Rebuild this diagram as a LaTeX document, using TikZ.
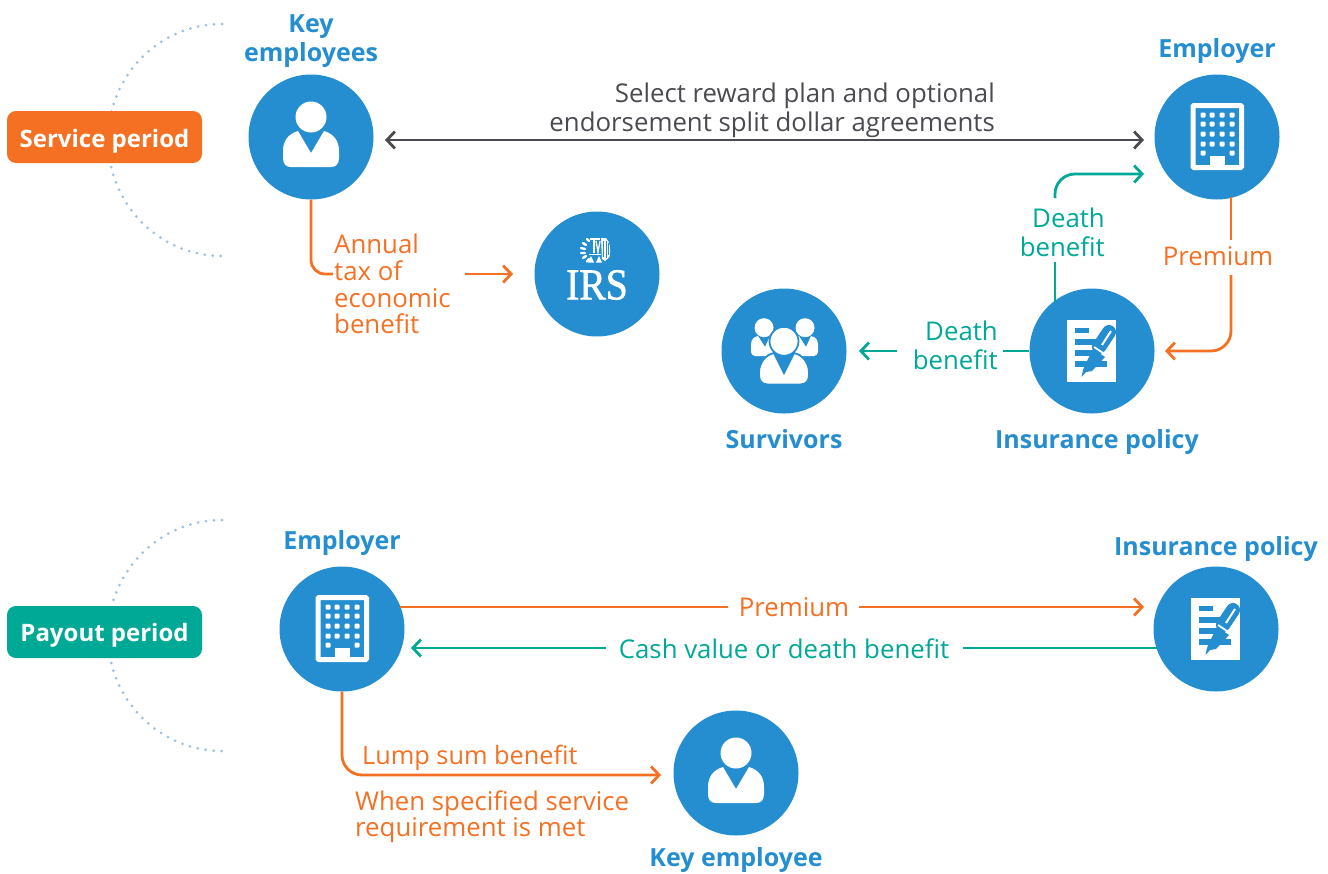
\documentclass[tikz,border=0pt]{standalone}
\usepackage{fontspec}
\setmainfont{Open Sans}
\newfontfamily\irsfont[FakeBold=1.5]{Liberation Serif}
\usetikzlibrary{arrows.meta}
\definecolor{cblue}{HTML}{258ED0}
\definecolor{corange}{HTML}{F57023}
\definecolor{cteal}{HTML}{00A896}
\definecolor{cgray}{HTML}{4A4A50}
\definecolor{cdots}{HTML}{9DBFE3}
\tikzset{
  disc/.style={circle,fill=cblue,minimum size=125pt,inner sep=0pt},
  title/.style={text=cblue,font=\fontsize{25}{29}\selectfont\bfseries,align=center,inner sep=0pt},
  lab/.style={font=\fontsize{25.8}{29.3}\selectfont,inner sep=0pt},
  orangelab/.style={lab,text=corange},
  teallab/.style={lab,text=cteal},
  pill/.style={rounded corners=9pt,minimum width=195pt,minimum height=52pt,inner sep=0pt,text=white,font=\fontsize{24}{29}\selectfont\bfseries},
  link/.style={line width=2.8pt,rounded corners=20pt},
  tip/.style={-{Straight Barb[length=8pt,width=17pt,line width=2.8pt]}},
  tips/.style={{Straight Barb[length=8pt,width=17pt,line width=2.8pt]}-{Straight Barb[length=8pt,width=17pt,line width=2.8pt]}},
  dotarc/.style={cdots,line width=3pt,line cap=round,dash pattern=on 0pt off 8pt},
  personicon/.pic={
    \fill[white] (0,-20) circle (15.5);
    \fill[white] (-13,-6) -- (0,16) -- (13,-6) .. controls (23,-3) and (28,4) .. (28,14) -- (28,21) .. controls (28,27) and (25,30) .. (20,30) -- (-20,30) .. controls (-25,30) and (-28,27) .. (-28,21) -- (-28,14) .. controls (-28,4) and (-23,-3) .. (-13,-6) -- cycle;
  },
  buildingicon/.pic={
    \draw[white,line width=5pt,rounded corners=1pt] (-24,-31.5) rectangle (24.5,30.5);
    \foreach \yy in {-22,-13,-3,7}{\foreach \xx in {-14,-5,5,15}{
      \fill[white,rounded corners=1pt] (\xx-2.5,\yy-2.5) rectangle (\xx+2.5,\yy+2.5);}}
    \foreach \xx in {-14,15}{\fill[white,rounded corners=1pt] (\xx-2.5,13.5) rectangle (\xx+2.5,18.5);}
    \fill[white] (-7,19) rectangle (8,31);
  },
  policyicon/.pic={
    \fill[white] (-25,-31) rectangle (24,31);
    \fill[cblue] (-17,-23) rectangle (-3,-18);
    \fill[cblue] (-17,-12) rectangle (8,-6);
    \fill[cblue] (-17,-1) rectangle (4,5);
    \fill[cblue] (-17,10) rectangle (15,16);
    \draw[cblue,line width=14pt,line cap=round] (7,-4) -- (17,-19);
    \draw[white,line width=2pt] (10,-6) -- (19,-20);
    \fill[cblue] (1,-2) -- (13,6) -- (0,20) -- (-6,21) -- (-10.5,26) -- (-9,19) -- (-6,12) -- cycle;
    \draw[white,line width=1.8pt] (2,-4) -- (14,4);
  },
  survivoricon/.pic={
    \foreach \ss/\dx in {1/-20,2/21}{
      \begin{scope}[shift={(\dx,0)}]
        \fill[white] (0,-23.3) circle (9.5);
        \fill[white] (-6,-15) -- (1,-4) -- (6,-15) .. controls (10,-14) and (13,-12) .. (13,-6) -- (13,1) .. controls (13,3) and (11,5) .. (9,5) -- (-9,5) .. controls (-11,5) and (-13,3) .. (-13,1) -- (-13,-6) .. controls (-13,-12) and (-10,-14) .. (-6,-15) -- cycle;
      \end{scope}}
    \fill[white,draw=cblue,line width=1.8pt] (0,-9.7) circle (14.5);
    \fill[white,draw=cblue,line width=1.8pt] (-10,2) -- (0,22) -- (10,2) .. controls (19,4) and (25,12) .. (25,22) -- (25,24) .. controls (25,30) and (22,33.5) .. (16,33.5) -- (-16,33.5) .. controls (-22,33.5) and (-25,30) .. (-25,24) -- (-25,22) .. controls (-25,12) and (-19,4) .. (-10,2) -- cycle;
  },
  irsicon/.pic={
    \node[text=white,inner sep=0pt,xscale=.9] (irsword) at (0,11) {\fontsize{44}{44}\selectfont\irsfont IRS};
    % wreath
    \draw[white,line width=2.4pt,line cap=round] (-10,-35) -- (-8,-33) (-14,-31) -- (-11,-29) (-16,-26) -- (-12,-25) (-16,-21) -- (-12,-21) (-14,-16) -- (-11,-18) (-10,-12.5) -- (-8,-15);
    % central column and scales
    \fill[white] (-7,-36) rectangle (3,-34);
    \fill[white] (-4.5,-34) rectangle (-2.5,-21);
    \draw[white,line width=1.3pt] (-1,-33) -- (1,-22) -- (3,-33);
    \draw[white,line width=1pt] (-8,-20) -- (4,-20);
    \fill[white] (-9,-11.5) -- (-6,-18) -- (-3,-11.5) -- cycle;
    \fill[white] (-1,-11.5) -- (2,-18) -- (5,-11.5) -- cycle;
    % eagle
    \fill[white] (4,-36) -- (9,-36) .. controls (13,-32) and (14,-25) .. (12.5,-17) -- (8,-13) -- (5,-15) -- cycle;
    \draw[cblue,line width=.7pt] (6.5,-33) -- (6.5,-17) (9,-33) -- (9,-16) (11.2,-31) -- (11.2,-19);
  },
}
\begin{document}
\begin{tikzpicture}[x=1pt,y=-1pt]
\useasboundingbox (0,0) rectangle (1328,873);
% dotted arcs
\draw[dotarc] (222,24) .. controls (159,24) and (108,76) .. (108,140) .. controls (108,204) and (159,256) .. (222,256);
\draw[dotarc] (222,520) .. controls (159,520) and (108,572) .. (108,635.5) .. controls (108,699) and (159,751) .. (222,751);
% pills
\node[pill,fill=corange,text depth=0pt] (service) at (104.5,137) {\raisebox{-2.5pt}{Service period}};
\node[pill,fill=cteal,text depth=0pt] (payout) at (104.5,632) {\raisebox{-1.5pt}{Payout period}};
% discs
\node[disc] (ke) at (311,137) {};
\node[disc] (er) at (1217,137) {};
\node[disc] (irs) at (597,274) {};
\node[disc] (surv) at (784,351) {};
\node[disc] (pol) at (1092,351) {};
\node[disc] (er2) at (342,629) {};
\node[disc] (pol2) at (1216,629) {};
\node[disc] (ke2) at (736,773) {};
% icons
\pic at (ke) {personicon};
\pic at (ke2) {personicon};
\pic at (er) {buildingicon};
\pic at (er2) {buildingicon};
\pic at (pol) {policyicon};
\pic at (pol2) {policyicon};
\pic at (surv) {survivoricon};
\pic at (irs) {irsicon};
% titles
\node[title] (tke) at (311,41) {Key\\employees};
\node[title] (ter) at (1217,51) {Employer};
\node[title] (tsurv) at (784,439) {Survivors};
\node[title] (tpol) at (1097,442) {Insurance policy};
\node[title] (ter2) at (342,543) {Employer};
\node[title] (tpol2) at (1216,549) {Insurance policy};
\node[title] (tke2) at (736,860) {Key employee};
% labels
\node[lab,text=cgray,align=right,anchor=east] (sel) at (995,110.5) {Select reward plan and optional\\endorsement split dollar agreements};
\node[orangelab,align=left,anchor=west,font=\fontsize{25.8}{26.8}\selectfont] (annual) at (334,284) {Annual\\tax of\\economic\\benefit};
\node[orangelab] (prem) at (1218,256) {Premium};
\node[teallab,align=right,anchor=east] (db1) at (1105,232) {Death\\benefit};
\node[teallab,align=right,anchor=east] (db2) at (998,345) {Death\\benefit};
\node[orangelab] (prem2) at (794,607) {Premium};
\node[teallab] (cash) at (784,649) {Cash value or death benefit};
\node[orangelab,anchor=west,font=\fontsize{25.3}{29}\selectfont] (lump) at (362,758) {Lump sum benefit};
\node[orangelab,align=left,anchor=west,font=\fontsize{25.8}{26}\selectfont] (when) at (355,817) {When specified service\\requirement is met};
% free ends
\coordinate (selL) at (385,140);
\coordinate (selR) at (1144,140);
\coordinate (annualin) at (333,274);
\coordinate (annualout) at (465,274);
\coordinate (irsin) at (513,274);
\coordinate (polup) at (1055,302);
\coordinate (db1b) at (1055,262);
\coordinate (db1t) at (1055,198);
\coordinate (erin) at (1144,174);
\coordinate (ers) at (1231,197);
\coordinate (prema) at (1231,240);
\coordinate (premb) at (1231,275);
\coordinate (polin) at (1165,351);
\coordinate (db2r) at (1003,351);
\coordinate (db2l) at (897,351);
\coordinate (survin) at (859,351);
\coordinate (e2a) at (400,607);
\coordinate (e2c) at (728,607);
\coordinate (p2c) at (859,607);
\coordinate (p2a) at (1144,607);
\coordinate (p2b) at (1158,648);
\coordinate (p2d) at (963,648);
\coordinate (e2d) at (606,648);
\coordinate (e2b) at (411,648);
\coordinate (ke2in) at (661,775);
% connectors
\draw[link,cgray,tips] (selL) -- (selR);
\draw[link,corange,rounded corners=14pt] (ke.south) |- (annualin);
\draw[link,corange,tip] (annualout) -- (irsin);
\draw[link,cteal] (polup) -- (db1b);
\draw[link,cteal,tip] (db1t) |- (erin);
\draw[link,corange] (ers) -- (prema);
\draw[link,corange,tip] (premb) |- (polin);
\draw[link,cteal] (pol.west) -- (db2r);
\draw[link,cteal,tip] (db2l) -- (survin);
\draw[link,corange] (e2a) -- (e2c);
\draw[link,corange,tip] (p2c) -- (p2a);
\draw[link,cteal] (p2b) -- (p2d);
\draw[link,cteal,tip] (e2d) -- (e2b);
\draw[link,corange,tip] (er2.south) |- (ke2in);
\end{tikzpicture}
\end{document}
